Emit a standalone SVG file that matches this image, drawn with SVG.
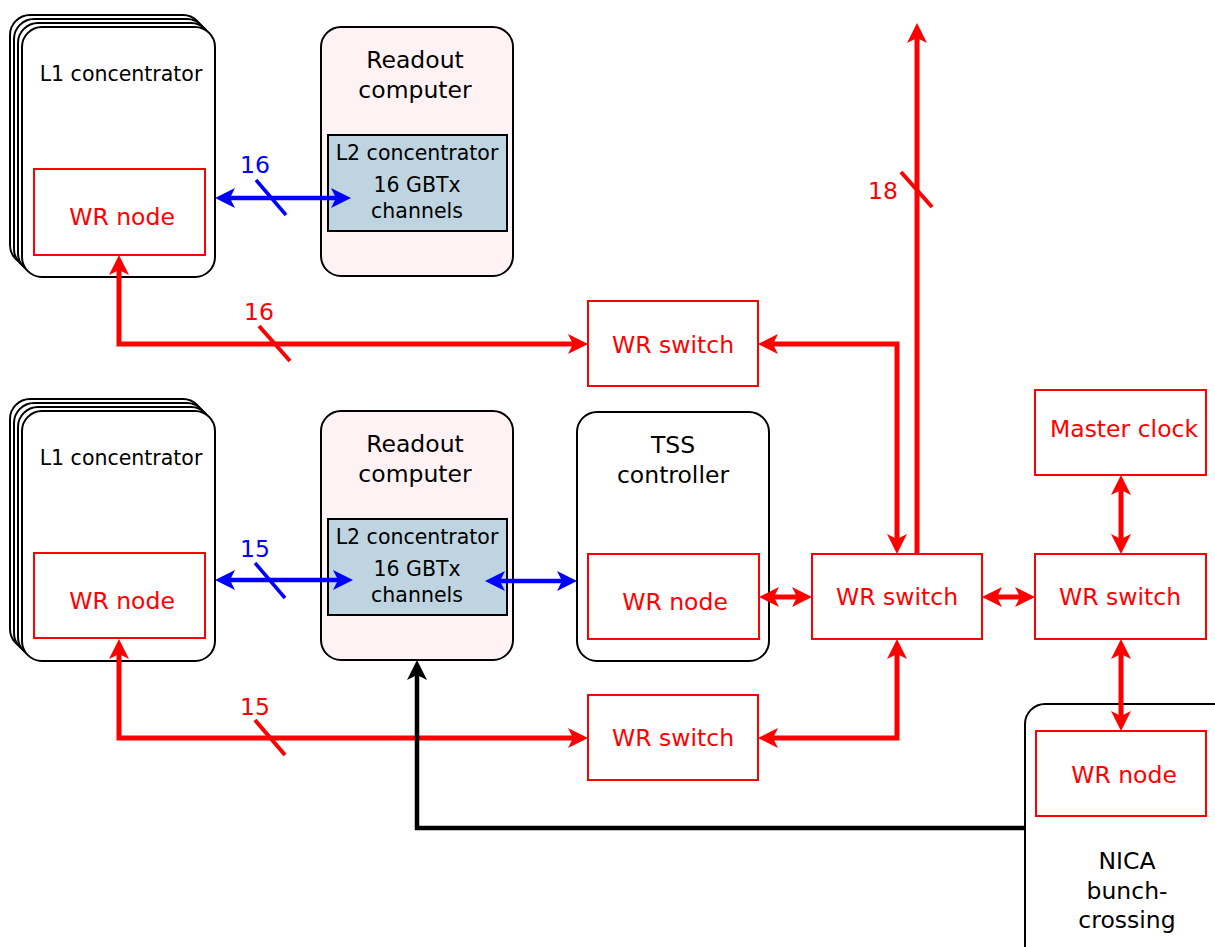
<svg xmlns="http://www.w3.org/2000/svg" width="1215" height="947" viewBox="0 0 1215 947">
<style>
  text { font-family: "DejaVu Sans", "Liberation Sans", sans-serif; text-anchor: middle; }
  .big { font-size: 23.5px; }
  .small { font-size: 20.5px; }
  .blk { fill: #000; }
  .red { fill: #ff0000; }
  .blue { fill: #0000ff; }
  .box { fill: #fff; stroke: #000; stroke-width: 2; }
  .ro { fill: #fff2f4; stroke: #000; stroke-width: 2; }
  .l2 { fill: #bed4e1; stroke: #000; stroke-width: 2; }
  .wr { fill: #fff; stroke: #ff0000; stroke-width: 2; }
  .cr { fill: none; stroke: #ff0000; stroke-width: 5; }
  .cb { fill: none; stroke: #0000ff; stroke-width: 4.5; }
  .ck { fill: none; stroke: #000; stroke-width: 4.5; }
  .sr { stroke: #ff0000; stroke-width: 4; }
  .sb { stroke: #0000ff; stroke-width: 3.5; }
</style>
<defs>
  <marker id="ar" markerUnits="userSpaceOnUse" viewBox="-6 -11 22 22" refX="0" refY="0" markerWidth="22" markerHeight="22" orient="auto-start-reverse">
    <path d="M15,0 L-5,-10 L0,0 L-5,10 Z" fill="#ff0000"/>
  </marker>
  <marker id="ab" markerUnits="userSpaceOnUse" viewBox="-6 -11 22 22" refX="0" refY="0" markerWidth="22" markerHeight="22" orient="auto-start-reverse">
    <path d="M15,0 L-5,-10 L0,0 L-5,10 Z" fill="#0000ff"/>
  </marker>
  <marker id="ak" markerUnits="userSpaceOnUse" viewBox="-6 -11 22 22" refX="0" refY="0" markerWidth="22" markerHeight="22" orient="auto-start-reverse">
    <path d="M15,0 L-5,-10 L0,0 L-5,10 Z" fill="#000"/>
  </marker>
</defs>

<g id="l1-top">
  <rect class="box" x="10" y="15" width="193" height="250" rx="20"/>
  <rect class="box" x="14" y="19" width="193" height="250" rx="20"/>
  <rect class="box" x="18" y="23" width="193" height="250" rx="20"/>
  <rect class="box" x="22" y="27" width="193" height="250" rx="20"/>
  <text class="small blk" x="121" y="81">L1 concentrator</text>
</g>
<g id="wrnode-l1-top">
  <rect class="wr" x="34" y="169" width="171" height="86"/>
  <text class="big red" x="122" y="225">WR node</text>
</g>
<g id="readout-top">
  <rect class="ro" x="321" y="27" width="192" height="249" rx="20"/>
  <text class="big blk" x="415" y="68">Readout</text>
  <text class="big blk" x="415" y="98">computer</text>
</g>
<g id="l2-top">
  <rect class="l2" x="328" y="135" width="179" height="96"/>
  <text class="small blk" x="417" y="160">L2 concentrator</text>
  <text class="small blk" x="417" y="192">16 GBTx</text>
  <text class="small blk" x="417" y="218">channels</text>
</g>
<g id="wrswitch-top">
  <rect class="wr" x="588" y="301" width="170" height="85"/>
  <text class="big red" x="673" y="353">WR switch</text>
</g>

<g id="l1-bottom">
  <rect class="box" x="10" y="399" width="193" height="250" rx="20"/>
  <rect class="box" x="14" y="403" width="193" height="250" rx="20"/>
  <rect class="box" x="18" y="407" width="193" height="250" rx="20"/>
  <rect class="box" x="22" y="411" width="193" height="250" rx="20"/>
  <text class="small blk" x="121" y="465">L1 concentrator</text>
</g>
<g id="wrnode-l1-bottom">
  <rect class="wr" x="34" y="553" width="171" height="85"/>
  <text class="big red" x="122" y="609">WR node</text>
</g>
<g id="readout-bottom">
  <rect class="ro" x="321" y="411" width="192" height="249" rx="20"/>
  <text class="big blk" x="415" y="452">Readout</text>
  <text class="big blk" x="415" y="482">computer</text>
</g>
<g id="l2-bottom">
  <rect class="l2" x="328" y="519" width="179" height="96"/>
  <text class="small blk" x="417" y="544">L2 concentrator</text>
  <text class="small blk" x="417" y="576">16 GBTx</text>
  <text class="small blk" x="417" y="602">channels</text>
</g>
<g id="tss">
  <rect class="box" x="577" y="412" width="192" height="249" rx="20"/>
  <text class="big blk" x="673" y="453">TSS</text>
  <text class="big blk" x="673" y="483">controller</text>
</g>
<g id="wrnode-tss">
  <rect class="wr" x="588" y="554" width="171" height="85"/>
  <text class="big red" x="675" y="610">WR node</text>
</g>
<g id="wrswitch-mid">
  <rect class="wr" x="812" y="554" width="170" height="85"/>
  <text class="big red" x="897" y="605">WR switch</text>
</g>
<g id="wrswitch-right">
  <rect class="wr" x="1035" y="554" width="171" height="85"/>
  <text class="big red" x="1120" y="605">WR switch</text>
</g>
<g id="master-clock">
  <rect class="wr" x="1035" y="390" width="171" height="85"/>
  <text class="big red" x="1124" y="437">Master clock</text>
</g>
<g id="wrswitch-bottom">
  <rect class="wr" x="588" y="695" width="170" height="85"/>
  <text class="big red" x="673" y="746">WR switch</text>
</g>
<g id="nica">
  <rect class="box" x="1025" y="704" width="210" height="270" rx="20"/>
  <text class="big blk" x="1127" y="869">NICA</text>
  <text class="big blk" x="1127" y="899">bunch-</text>
  <text class="big blk" x="1127" y="928">crossing</text>
</g>
<g id="wrnode-nica">
  <rect class="wr" x="1036" y="731" width="170" height="85"/>
  <text class="big red" x="1124" y="783">WR node</text>
</g>

<g id="connectors">
  <!-- blue -->
  <line class="cb" x1="230" y1="198" x2="336" y2="198" marker-start="url(#ab)" marker-end="url(#ab)"/>
  <line class="sb" x1="256" y1="180" x2="286" y2="215"/>
  <text class="big blue" x="255" y="173">16</text>
  <line class="cb" x1="230" y1="580" x2="338" y2="580" marker-start="url(#ab)" marker-end="url(#ab)"/>
  <line class="sb" x1="255" y1="563" x2="285" y2="598"/>
  <text class="big blue" x="255" y="557">15</text>
  <line class="cb" x1="500" y1="581" x2="562" y2="581" marker-start="url(#ab)" marker-end="url(#ab)"/>

  <!-- red -->
  <path class="cr" d="M119,270 V344 H573" marker-start="url(#ar)" marker-end="url(#ar)"/>
  <line class="sr" x1="259" y1="326" x2="290" y2="361"/>
  <text class="big red" x="259" y="320">16</text>
  <path class="cr" d="M773,344 H897 V539" marker-start="url(#ar)" marker-end="url(#ar)"/>
  <path class="cr" d="M917,554 V38" marker-end="url(#ar)"/>
  <line class="sr" x1="901" y1="172" x2="932" y2="207"/>
  <text class="big red" x="883" y="199">18</text>
  <line class="cr" x1="774" y1="597" x2="797" y2="597" marker-start="url(#ar)" marker-end="url(#ar)"/>
  <line class="cr" x1="997" y1="597" x2="1020" y2="597" marker-start="url(#ar)" marker-end="url(#ar)"/>
  <line class="cr" x1="1121" y1="490" x2="1121" y2="539" marker-start="url(#ar)" marker-end="url(#ar)"/>
  <line class="cr" x1="1121" y1="654" x2="1121" y2="716" marker-start="url(#ar)" marker-end="url(#ar)"/>
  <path class="cr" d="M119,654 V738 H573" marker-start="url(#ar)" marker-end="url(#ar)"/>
  <line class="sr" x1="255" y1="720" x2="285" y2="755"/>
  <text class="big red" x="255" y="715">15</text>
  <path class="cr" d="M773,738 H897 V654" marker-start="url(#ar)" marker-end="url(#ar)"/>

  <!-- black -->
  <path class="ck" d="M1025,828 H417 V675" marker-end="url(#ak)"/>
</g>
</svg>
